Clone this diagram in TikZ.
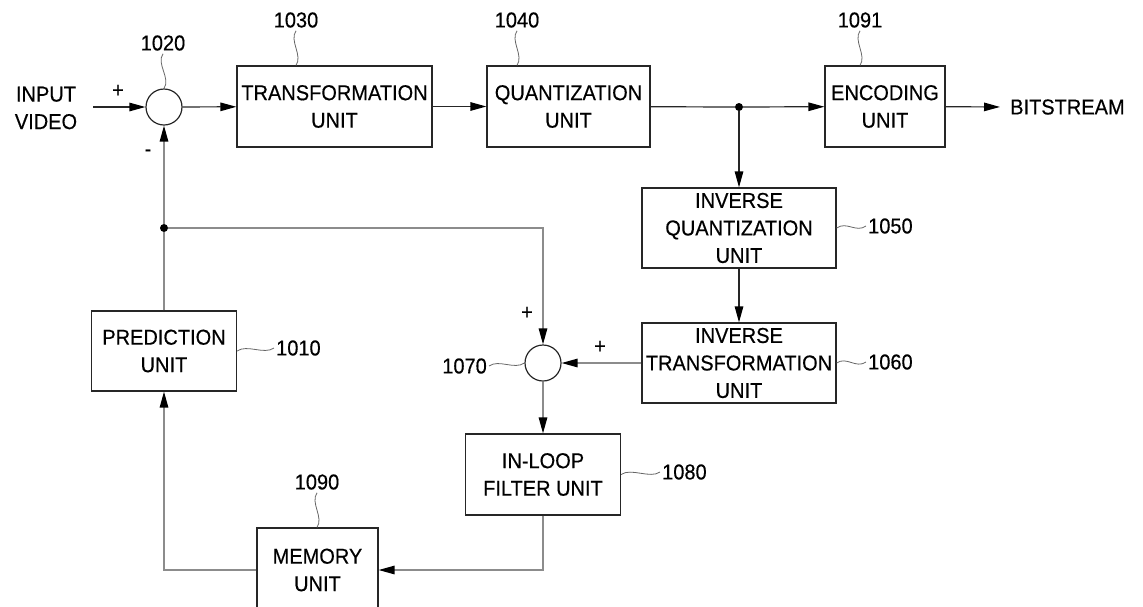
\documentclass[tikz,border=0pt]{standalone}
\usepackage{fontspec}
\setmainfont{Liberation Sans}[FakeStretch=0.93,FakeBold=0.4]
\usetikzlibrary{arrows.meta}
\begin{document}
\begin{tikzpicture}[x=1pt,y=-1pt,
  every node/.style={font=\fontsize{21.5}{27.5}\selectfont},
  box/.style={draw=black!85,line width=1.2pt,align=center,inner sep=0pt},
  sumc/.style={draw=black!85,line width=1.2pt,circle,minimum size=36pt,inner sep=0pt},
  ln/.style={draw=black!85,line width=1.2pt},
  gln/.style={draw=black!45,line width=1.3pt},
  arr/.style={-{Triangle[length=16pt,width=8.5pt,color=black]}},
  lead/.style={draw=black!60,line width=0.8pt},
  lbl/.style={inner sep=0pt},
  dot/.style={circle,fill=black,inner sep=0pt,minimum size=8pt}
]
\useasboundingbox (0,0) rectangle (1143,606);
\clip (0,0) rectangle (1143,606);

% blocks
\node[box,minimum width=195pt,minimum height=81pt] (tu) at (334.5,106.5) {TRANSFORMATION\\UNIT};
\node[box,minimum width=163pt,minimum height=81pt] (qu) at (568.5,106.5) {QUANTIZATION\\UNIT};
\node[box,minimum width=120pt,minimum height=81pt] (eu) at (885,106.5) {ENCODING\\UNIT};
\node[box,minimum width=194pt,minimum height=80pt] (iq) at (739,228) {INVERSE\\QUANTIZATION\\UNIT};
\node[box,minimum width=194pt,minimum height=80pt] (it) at (739,363) {INVERSE\\TRANSFORMATION\\UNIT};
\node[box,minimum width=155pt,minimum height=81pt] (il) at (543,474.5) {IN-LOOP\\FILTER UNIT};
\node[box,minimum width=145pt,minimum height=80pt] (pu) at (164,351) {PREDICTION\\UNIT};
\node[box,minimum width=121pt,minimum height=84pt] (mu) at (317.5,570) {MEMORY\\UNIT};

% adders and junctions
\node[sumc] (s1) at (164,107) {};
\node[sumc] (s2) at (543,363) {};
\node[dot] (d1) at (739,107) {};
\node[dot] (d2) at (164,228) {};

% terminal texts
\node[align=center,inner sep=0pt] (inp) at (46,108) {INPUT\\VIDEO};
\coordinate (vin) at (93,107);
\node[anchor=west,inner sep=0pt] (bs) at (1010,107) {BITSTREAM};

% signs
\node[lbl] (p1) at (118,91) {+};
\node[lbl] (m1) at (148,153) {-};
\node[lbl] (p2) at (527,313) {+};
\node[lbl] (p3) at (600,347) {+};

% connectors
\draw[ln,arr] (vin) -- (s1);
\draw[ln,arr] (s1) -- (tu);
\draw[ln,arr] (tu) -- (qu);
\draw[ln] (qu) -- (d1);
\draw[ln,arr] (d1) -- (eu);
\draw[ln,arr,shorten >=10pt] (eu) -- (bs.west);
\draw[ln,arr] (d1) -- (iq);
\draw[ln,arr] (iq) -- (it);
\draw[gln,arr] (it) -- (s2);
\draw[gln,arr] (d2) -| (s2);
\draw[gln,arr] (d2) -- (s1);
\draw[gln] (pu) -- (d2);
\draw[gln,arr] (s2) -- (il);
\draw[gln,arr] (il.south) |- (mu.east);
\draw[gln,arr] (mu.west) -| (pu.south);

% reference labels
\node[lbl] (l1030) at (296,20) {1030};
\node[lbl] (l1040) at (517,20) {1040};
\node[lbl] (l1091) at (860,20) {1091};
\node[lbl] (l1020) at (163,43) {1020};
\node[lbl,anchor=west] (l1050) at (868,226) {1050};
\node[lbl,anchor=west] (l1060) at (868,362) {1060};
\node[lbl,anchor=east] (l1070) at (487,366) {1070};
\node[lbl,anchor=west] (l1080) at (662,472) {1080};
\node[lbl,anchor=west] (l1010) at (276,348) {1010};
\node[lbl] (l1090) at (317,482) {1090};

\draw[lead] ([yshift=-3pt]l1030.south) .. controls +(-7,10) and +(7,-10) .. (l1030.south |- tu.north);
\draw[lead] ([yshift=-3pt]l1040.south) .. controls +(-7,10) and +(7,-10) .. (l1040.south |- qu.north);
\draw[lead] ([yshift=-3pt]l1091.south) .. controls +(-7,10) and +(7,-10) .. (l1091.south |- eu.north);
\draw[lead] ([yshift=-3pt]l1020.south) .. controls +(-7,10) and +(7,-10) .. (s1.north);
\draw[lead] ([yshift=-3pt]l1090.south) .. controls +(-7,10) and +(7,-10) .. (l1090.south |- mu.north);
\draw[lead] (iq.east) .. controls +(10,-7) and +(-10,7) .. ([xshift=-2pt]l1050.west);
\draw[lead] (it.east) .. controls +(10,-7) and +(-10,7) .. ([xshift=-2pt]l1060.west);
\draw[lead] (il.east) .. controls +(10,-7) and +(-10,7) .. ([xshift=-2pt]l1080.west);
\draw[lead] (pu.east) .. controls +(10,-7) and +(-10,7) .. ([xshift=-2pt]l1010.west);
\draw[lead] ([xshift=2pt]l1070.east) .. controls +(10,-7) and +(-10,7) .. (s2.west);
\end{tikzpicture}
\end{document}
